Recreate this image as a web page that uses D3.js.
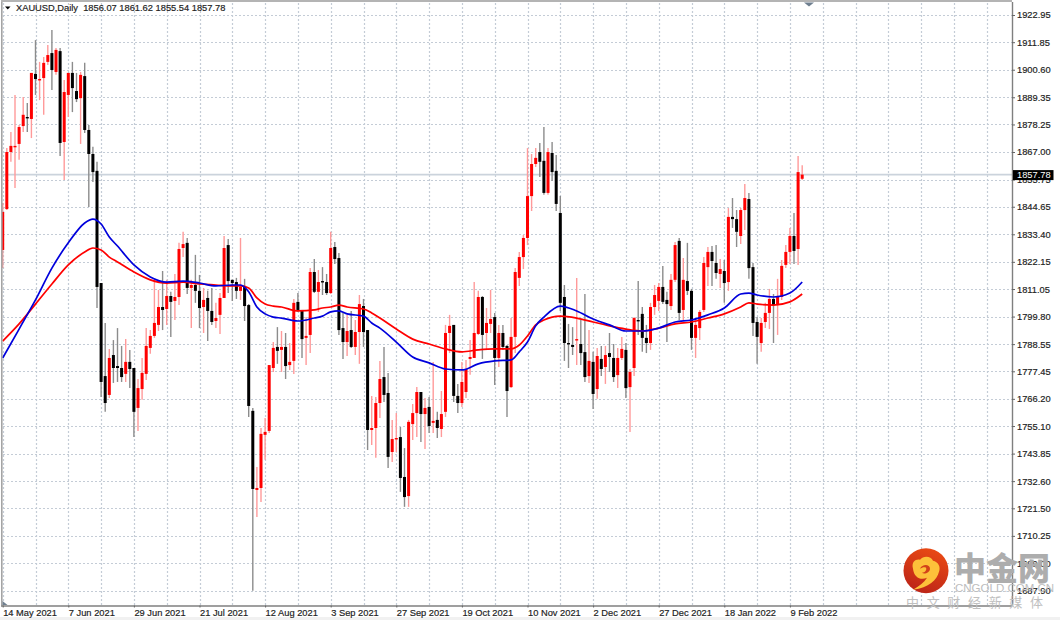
<!DOCTYPE html>
<html><head><meta charset="utf-8">
<script src="https://cdn.jsdelivr.net/npm/d3@7"></script>
<style>html,body{margin:0;padding:0;background:#fff}svg{display:block}</style>
</head><body><div id="c"></div>
<script>
const priceTicks=["1922.95","1911.85","1900.60","1889.35","1878.25","1867.00","1855.75","1844.65","1833.40","1822.15","1811.05","1799.80","1788.55","1777.45","1766.20","1755.10","1743.85","1732.60","1721.50","1710.25","1699.00","1687.90"];
const dateLabels=["14 May 2021","7 Jun 2021","29 Jun 2021","21 Jul 2021","12 Aug 2021","3 Sep 2021","27 Sep 2021","19 Oct 2021","10 Nov 2021","2 Dec 2021","27 Dec 2021","18 Jan 2022","9 Feb 2022"];
const opens=[1827.0,1843.7,1867.0,1869.1,1870.3,1877.6,1881.3,1880.5,1898.9,1896.4,
1897.2,1903.8,1907.4,1899.7,1908.2,1871.1,1890.3,1899.3,1891.9,1889.0,
1898.0,1876.0,1866.2,1859.3,1813.5,1775.5,1767.8,1784.1,1779.6,1778.8,
1776.4,1781.3,1778.8,1762.5,1770.2,1776.4,1787.0,1791.9,1796.4,1803.7,
1802.9,1808.2,1806.2,1807.8,1827.8,1829.9,1811.5,1812.7,1810.3,1803.7,
1807.4,1802.1,1798.0,1800.5,1807.4,1829.0,1814.8,1813.9,1810.3,1811.9,
1804.5,1761.3,1729.0,1729.8,1751.5,1753.1,1778.8,1787.4,1786.2,1787.4,
1780.0,1781.7,1805.8,1802.5,1791.1,1792.3,1818.0,1809.9,1814.3,1813.9,
1809.4,1828.2,1823.7,1795.1,1789.4,1794.3,1787.4,1793.5,1804.1,1794.3,
1753.5,1754.3,1764.5,1775.1,1768.6,1744.5,1749.8,1750.6,1734.3,1726.5,
1755.9,1760.4,1769.0,1760.0,1762.9,1756.4,1757.6,1753.9,1760.9,1793.1,
1796.4,1767.4,1764.5,1769.0,1782.5,1782.9,1792.7,1807.8,1793.1,1796.8,
1799.6,1782.9,1793.1,1787.8,1771.0,1791.5,1815.6,1824.1,1831.9,1849.0,
1862.1,1867.0,1863.4,1850.3,1866.6,1859.3,1842.1,1807.8,1789.0,1788.2,
1790.2,1788.6,1785.3,1775.5,1781.3,1770.2,1782.5,1779.2,1784.9,1782.9,
1775.9,1782.9,1786.2,1771.0,1778.8,1798.4,1800.9,1791.1,1789.0,1803.7,
1806.2,1811.9,1806.6,1804.1,1814.8,1830.7,1802.5,1814.3,1810.3,1791.1,
1795.1,1802.5,1820.0,1826.2,1821.7,1817.2,1818.4,1813.9,1840.5,1839.6,
1832.7,1843.3,1847.8,1820.0,1797.6,1789.0,1797.6,1801.3,1807.0,1804.5,
1807.8,1820.9,1826.2,1832.7,1827.4,1856.07];
const highs=[1846.2,1868.6,1875.2,1890.3,1878.0,1889.5,1887.0,1899.3,1912.7,1903.8,
1905.8,1910.7,1916.8,1909.5,1909.5,1896.4,1899.3,1903.8,1899.3,1899.7,
1903.4,1878.0,1869.1,1863.0,1813.5,1797.2,1786.6,1790.2,1795.1,1787.8,
1790.6,1786.2,1778.8,1774.3,1782.9,1795.1,1794.3,1813.9,1810.7,1818.4,
1814.8,1809.9,1817.2,1829.9,1834.4,1831.9,1814.8,1825.0,1816.8,1811.5,
1810.3,1811.5,1805.4,1809.4,1832.7,1831.5,1814.8,1815.6,1831.9,1815.2,
1804.9,1762.5,1738.4,1754.3,1758.4,1780.0,1789.4,1795.5,1793.9,1793.1,
1789.0,1807.0,1809.4,1802.5,1799.6,1819.6,1823.3,1818.8,1820.0,1817.2,
1834.4,1830.3,1825.8,1801.3,1800.5,1802.1,1798.4,1808.6,1807.0,1794.3,
1767.4,1767.0,1781.7,1787.4,1776.8,1757.6,1760.4,1754.7,1746.1,1757.6,
1764.1,1771.0,1769.0,1766.6,1767.0,1781.3,1760.9,1769.4,1796.4,1800.5,
1796.4,1772.3,1781.3,1782.1,1790.2,1813.9,1810.3,1808.2,1803.3,1810.7,
1801.3,1796.4,1796.4,1788.2,1799.2,1819.6,1826.2,1833.1,1868.6,1866.2,
1868.6,1870.7,1877.2,1868.6,1871.1,1865.8,1849.0,1812.7,1796.8,1795.5,
1815.6,1798.4,1809.0,1794.3,1785.4,1787.0,1787.8,1787.8,1793.1,1788.6,
1787.0,1791.5,1789.0,1778.4,1799.6,1814.3,1803.7,1796.4,1805.4,1812.7,
1813.5,1820.5,1809.9,1817.2,1830.3,1831.9,1823.7,1829.9,1811.1,1798.4,
1802.5,1824.1,1828.2,1828.6,1829.0,1823.3,1822.9,1844.1,1848.2,1843.3,
1844.1,1853.9,1850.3,1821.7,1799.6,1799.2,1805.4,1811.1,1809.0,1815.2,
1822.9,1829.0,1836.0,1842.1,1865.4,1861.62];
const lows=[1819.6,1843.3,1863.0,1852.3,1863.8,1875.2,1875.2,1872.7,1890.3,1888.2,
1882.2,1902.5,1892.3,1898.5,1865.4,1855.6,1881.3,1883.3,1887.4,1870.3,
1874.8,1844.5,1854.8,1803.3,1767.0,1760.9,1766.6,1772.7,1773.1,1773.1,
1773.1,1770.6,1750.6,1753.1,1765.8,1773.9,1784.6,1791.1,1793.9,1794.3,
1796.4,1791.5,1798.4,1804.5,1824.1,1809.0,1795.1,1805.4,1795.1,1793.1,
1789.8,1796.4,1795.1,1792.7,1807.4,1809.4,1806.2,1807.0,1806.6,1798.0,
1758.8,1687.8,1718.0,1724.1,1741.3,1752.3,1777.2,1780.5,1777.2,1774.3,
1778.0,1776.4,1801.7,1782.9,1780.0,1784.9,1809.4,1801.7,1808.6,1808.6,
1809.0,1821.3,1792.3,1782.5,1783.7,1787.0,1784.1,1780.5,1787.4,1745.3,
1747.4,1742.1,1758.4,1764.9,1738.0,1740.4,1744.5,1728.2,1722.1,1722.1,
1749.4,1750.6,1748.6,1745.7,1752.3,1752.3,1750.2,1750.6,1758.8,1784.9,
1764.9,1760.4,1762.9,1766.6,1776.0,1782.9,1792.3,1782.5,1786.2,1793.1,
1771.9,1779.2,1786.2,1758.8,1770.6,1784.9,1812.3,1819.2,1829.0,1842.9,
1860.9,1856.8,1849.5,1849.5,1855.2,1842.9,1802.1,1781.7,1778.8,1784.1,
1780.0,1780.0,1773.1,1772.7,1762.1,1766.2,1775.5,1772.3,1777.2,1773.1,
1770.6,1782.1,1766.6,1752.7,1775.5,1792.3,1785.4,1784.9,1786.2,1800.5,
1802.1,1804.9,1789.4,1802.5,1813.9,1798.4,1798.4,1808.6,1786.2,1782.9,
1790.2,1801.7,1812.3,1812.3,1815.2,1811.5,1805.4,1810.3,1836.0,1828.2,
1829.4,1835.2,1815.2,1791.9,1780.5,1785.4,1795.1,1794.7,1789.0,1792.3,
1806.6,1819.6,1821.3,1821.3,1820.9,1855.54];
const closes=[1842.5,1867.0,1869.5,1869.5,1877.2,1882.2,1880.9,1899.3,1896.8,1896.8,
1903.4,1906.6,1900.5,1908.7,1870.7,1891.5,1899.3,1893.1,1888.6,1898.5,
1876.0,1866.2,1858.8,1811.9,1773.1,1764.5,1782.9,1778.8,1778.8,1775.1,
1781.3,1778.4,1760.9,1770.6,1776.8,1787.8,1791.9,1797.2,1803.7,1802.5,
1808.2,1805.8,1807.8,1827.4,1829.4,1811.5,1812.7,1810.3,1803.3,1806.6,
1802.1,1797.6,1799.2,1807.4,1827.8,1814.3,1813.5,1810.3,1811.9,1804.1,
1763.3,1729.4,1729.8,1751.9,1752.7,1780.0,1787.0,1785.8,1787.4,1779.6,
1781.3,1805.4,1802.5,1790.6,1791.9,1818.0,1809.9,1813.9,1813.9,1809.4,
1827.8,1823.3,1794.3,1789.4,1793.9,1787.4,1793.5,1804.9,1793.5,1753.5,
1754.3,1764.5,1774.3,1767.8,1742.5,1749.8,1750.2,1733.9,1726.1,1756.8,
1760.4,1769.0,1760.0,1762.5,1755.1,1757.2,1754.3,1760.0,1793.1,1796.0,
1767.4,1764.5,1773.1,1778.4,1783.3,1793.1,1807.8,1792.3,1797.2,1798.8,
1782.9,1793.1,1787.4,1769.4,1791.5,1818.0,1824.1,1831.9,1849.0,1862.1,
1864.6,1863.0,1850.3,1867.0,1858.8,1845.8,1805.4,1789.0,1788.6,1787.4,
1790.6,1784.9,1775.1,1781.7,1768.2,1783.7,1778.4,1784.1,1783.3,1775.1,
1782.9,1786.6,1770.6,1777.2,1799.2,1798.0,1791.1,1789.0,1803.7,1808.6,
1811.9,1805.8,1804.9,1814.8,1829.0,1801.3,1814.8,1810.3,1791.1,1796.4,
1801.7,1821.7,1826.2,1822.5,1817.6,1819.2,1813.5,1840.5,1839.6,1834.4,
1843.3,1848.2,1819.6,1797.2,1791.5,1797.2,1801.3,1807.0,1804.5,1807.8,
1820.5,1826.2,1832.7,1826.6,1858.8,1857.78];
const maBars=[0,4,8,12,16,20,22,24,26,28,32,36,40,44,48,52,56,58,60,62,64,66,68,72,76,78,80,82,84,88,90,92,96,100,104,108,112,116,120,124,126,128,130,132,136,140,144,148,152,156,160,164,168,172,176,180,182,184,188,192,195];
const blueMA=[1782.9,1794.7,1806.6,1819.6,1829.9,1838.0,1839.6,1837.6,1832.3,1828.6,1820.9,1816.0,1813.9,1814.3,1813.5,1812.3,1812.7,1812.7,1809.9,1803.7,1800.9,1799.6,1799.2,1798.0,1799.2,1800.0,1801.7,1802.1,1800.9,1800.0,1797.2,1795.1,1789.4,1783.3,1780.9,1778.4,1778.0,1780.5,1781.7,1782.1,1785.4,1789.4,1796.0,1799.6,1804.1,1802.1,1798.8,1796.4,1793.9,1793.9,1795.1,1797.6,1798.4,1800.5,1803.3,1809.0,1809.4,1808.6,1807.8,1809.4,1813.9];
const redMA=[1789.8,1796.8,1804.9,1813.1,1820.9,1826.2,1827.8,1827.0,1824.1,1822.1,1818.0,1814.8,1813.5,1813.9,1813.1,1812.7,1812.3,1812.3,1811.5,1807.4,1804.9,1804.1,1803.7,1802.1,1802.5,1803.3,1803.7,1804.5,1803.7,1802.9,1801.3,1799.2,1794.7,1790.6,1788.6,1786.6,1785.4,1786.2,1786.6,1786.6,1788.2,1791.9,1796.4,1798.4,1800.0,1799.2,1797.6,1796.0,1794.7,1793.9,1795.1,1796.8,1797.6,1799.2,1800.9,1803.7,1805.4,1804.9,1804.5,1805.8,1809.0];
const lastPrice=1857.78;
const header="XAUUSD,Daily  1856.07 1861.62 1855.54 1857.78";

const W=1060,H=620,axisX=1012,axisY=605.5;
const svg=d3.select("#c").append("svg").attr("width",W).attr("height",H);
const defs=svg.append("defs");
const font="'Liberation Sans',sans-serif";
const x=d3.scaleLinear().domain([0,195]).range([2.7,802.2]);
const y=d3.scaleLinear().domain([1922.95,1687.9]).range([15,590.6]);
const bars=d3.range(opens.length);
const grid="#c4ccd6";
const boldText=sel=>sel.attr("stroke","#222").attr("stroke-width",.18);

svg.append("rect").attr("y",617).attr("width",W).attr("height",3).attr("fill","#f1f1f1");

// grid
const g=svg.append("g");
g.selectAll(".h").data(priceTicks).join("line").attr("x1",3).attr("x2",axisX)
 .attr("y1",d=>Math.round(y(+d))+.5).attr("y2",d=>Math.round(y(+d))+.5)
 .attr("stroke",grid).attr("stroke-dasharray","2,2");
g.selectAll(".v").data(d3.range(0,W,8).filter(i=>x(i)<axisX)).join("line")
 .attr("y1",3).attr("y2",axisY).attr("x1",d=>Math.round(x(d))+.5).attr("x2",d=>Math.round(x(d))+.5)
 .attr("stroke",grid).attr("stroke-width",1.2).attr("stroke-dasharray","2,2");

// last price line
svg.append("line").attr("x1",3).attr("x2",axisX).attr("y1",y(lastPrice)).attr("y2",y(lastPrice)).attr("stroke","#cbd3dc").attr("stroke-width",1.6);

// candles
const up=i=>closes[i]>=opens[i];
svg.append("g").selectAll("line").data(bars).join("line")
 .attr("x1",i=>x(i)).attr("x2",i=>x(i)).attr("y1",i=>y(highs[i])).attr("y2",i=>y(lows[i]))
 .attr("stroke",i=>up(i)?"#ff9a9a":"#8c8c8c").attr("stroke-width",1.4);
svg.append("g").selectAll("rect").data(bars).join("rect")
 .attr("x",i=>x(i)-1.5).attr("width",3)
 .attr("y",i=>y(Math.max(opens[i],closes[i])))
 .attr("height",i=>Math.max(1.4,Math.abs(y(opens[i])-y(closes[i]))))
 .attr("fill",i=>up(i)?"#ff0000":"#000");

// moving averages
const ln=d3.line().x(d=>x(d[0])).y(d=>y(d[1])).curve(d3.curveMonotoneX);
svg.append("path").attr("d",ln(maBars.map((b,k)=>[b,redMA[k]]))).attr("fill","none").attr("stroke","#ff0000").attr("stroke-width",1.7);
svg.append("path").attr("d",ln(maBars.map((b,k)=>[b,blueMA[k]]))).attr("fill","none").attr("stroke","#0000dc").attr("stroke-width",1.7);

// frame
svg.append("rect").attr("x",1).attr("y",0).attr("width",1.6).attr("height",axisY).attr("fill","#a4a4a4");
svg.append("rect").attr("x",1).attr("y",0).attr("width",axisX-1).attr("height",2).attr("fill","#b4b4b4");

// axes
const yAxis=d3.axisRight(y).tickValues(priceTicks.map(Number)).tickFormat(d3.format(".2f")).tickSize(3).tickPadding(2);
const ya=svg.append("g").attr("transform",`translate(${axisX},0)`).call(yAxis);
ya.select(".domain").attr("d",`M0.5,2V${axisY}`).attr("stroke","#7f7f7f").attr("stroke-width",1.4);
ya.selectAll("line").attr("stroke","#666");
ya.selectAll("text").attr("font-family",font).attr("font-size",9.3).attr("fill","#222").attr("x",5).call(boldText);

const tickBars=dateLabels.map((_,k)=>k*16);
const xAxis=d3.axisBottom(x).tickValues(tickBars).tickFormat((d,k)=>dateLabels[k]).tickSize(2).tickPadding(2);
const xa=svg.append("g").attr("transform",`translate(0,${axisY})`).call(xAxis);
xa.select(".domain").attr("d",`M1,0.5H${axisX}`).attr("stroke","#7f7f7f").attr("stroke-width",1.4);
xa.selectAll("line").attr("stroke","#666");
xa.selectAll("text").attr("font-family",font).attr("font-size",9.3).attr("fill","#222").attr("text-anchor","start").attr("dy",0).attr("y",10.3).call(boldText);

// last price tag
const ty=y(lastPrice);
svg.append("rect").attr("x",1013).attr("y",ty-4.5).attr("width",40.5).attr("height",10).attr("fill","#000");
svg.append("text").attr("x",1017).attr("y",ty+3.4).attr("font-family",font).attr("font-size",9.3).attr("fill","#fff").text(d3.format(".2f")(lastPrice));

// header
svg.append("path").attr("d","M5,6.5h5.5l-2.75,3z").attr("fill","#000");
svg.append("text").attr("x",16).attr("y",11).attr("font-family",font).attr("font-size",9.3).attr("fill","#222").attr("xml:space","preserve").text(header).call(boldText);

// small markers
svg.append("path").attr("d","M804,2.5h10l-5,4z").attr("fill","#6f7f8f");
svg.append("path").attr("d","M2.5,601l5,4h-5z").attr("fill","#6f7f8f");

// watermark
const lg=defs.append("linearGradient").attr("id","lg").attr("x1",.7).attr("y1",0).attr("x2",.3).attr("y2",1);
lg.append("stop").attr("offset",0).attr("stop-color","#ea4a14");
lg.append("stop").attr("offset",1).attr("stop-color","#bb2418");
const wm=svg.append("g");
wm.append("circle").attr("cx",926).attr("cy",570.7).attr("r",22.5).attr("fill","url(#lg)");
wm.append("path").attr("transform","translate(926,570.7)")
 .attr("d","M-13,-2C-15,-9 -10,-12 -6,-11C-3,-15 5,-15 7,-10C12,-9 15,-4 13,1C11,9 3,17 -13,19C-7,15 -2,12 1,7C-5,10 -12,7 -13,-2Z")
 .attr("fill","#fdc13a");
wm.append("path").attr("transform","translate(926,570.7)")
 .attr("d","M-6,-2C-4,-7 4,-7 4,-2C4,2 -2,4 -4,2C-1,2 1,-1 0,-3C-2,-4 -4,-3 -6,-2Z").attr("fill","#d2421a");
wm.append("text").attr("x",954).attr("y",580).attr("font-family","'Noto Sans CJK SC'").attr("font-weight",900).attr("font-size",32).attr("fill","#adadad").text("中金网");
wm.append("text").attr("x",955).attr("y",592).attr("font-family",font).attr("font-size",11.5).attr("fill","#bdbdbd").text("CNGOLD.COM.CN");
wm.append("text").attr("x",906).attr("y",607).attr("font-family","'Noto Sans CJK SC'").attr("font-size",13).attr("fill","#c0c0c0").attr("textLength",137).text("中 文 财 经 新 媒 体");
</script></body></html>
